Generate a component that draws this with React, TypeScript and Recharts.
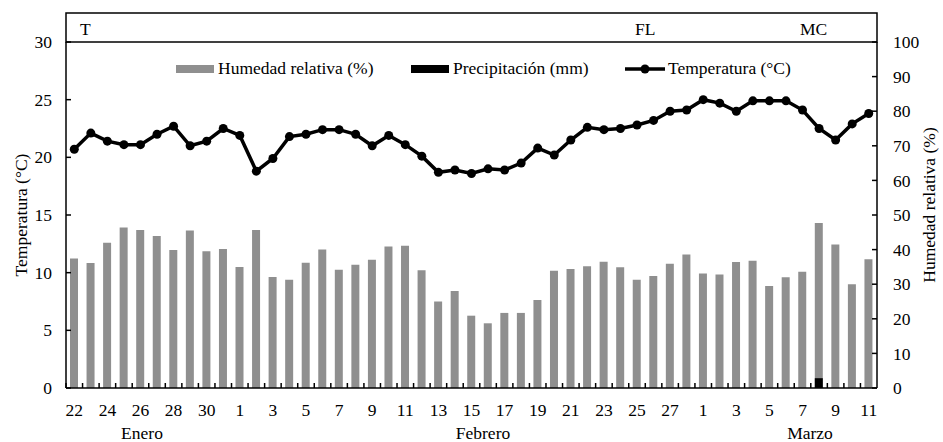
import React from 'react';
import { ComposedChart, Bar, Line, XAxis, YAxis, Legend } from 'recharts';

// Jan 22 - Mar 11
const dayLabels = [
  '22', '23', '24', '25', '26', '27', '28', '29', '30', '31',
  '1', '2', '3', '4', '5', '6', '7', '8', '9', '10', '11', '12', '13', '14',
  '15', '16', '17', '18', '19', '20', '21', '22', '23', '24', '25', '26', '27', '28',
  '1', '2', '3', '4', '5', '6', '7', '8', '9', '10', '11',
];

const humidity = [
  37.4, 36.1, 42.0, 46.4, 45.7, 43.9, 39.9, 45.5, 39.5, 40.2,
  35.0, 45.7, 32.1, 31.3, 36.2, 40.0, 34.2, 35.6, 37.1, 40.9, 41.1, 34.0, 25.0, 28.0,
  20.9, 18.7, 21.7, 21.7, 25.4, 33.9, 34.4, 35.2, 36.5, 34.9, 31.3, 32.4, 35.9, 38.6,
  33.1, 32.8, 36.4, 36.8, 29.5, 32.0, 33.6, 47.7, 41.5, 30.0, 37.2,
];

const precipitation = [
  0, 0, 0, 0, 0, 0, 0, 0, 0, 0,
  0, 0, 0, 0, 0, 0, 0, 0, 0, 0, 0, 0, 0, 0,
  0, 0, 0, 0, 0, 0, 0, 0, 0, 0, 0, 0, 0, 0,
  0, 0, 0, 0, 0, 0, 0, 0.85, 0, 0, 0,
];

const temperature = [
  20.7, 22.1, 21.4, 21.1, 21.1, 22.0, 22.7, 21.0, 21.4, 22.5,
  21.9, 18.8, 19.9, 21.8, 22.0, 22.4, 22.4, 22.0, 21.0, 21.9, 21.1, 20.1, 18.7, 18.9,
  18.6, 19.0, 18.9, 19.5, 20.8, 20.2, 21.5, 22.6, 22.4, 22.5, 22.8, 23.2, 24.0, 24.1,
  25.0, 24.7, 24.0, 24.9, 24.9, 24.9, 24.1, 22.5, 21.5, 22.9, 23.8,
];

const tempTicks = [0, 5, 10, 15, 20, 25, 30];
const humTicks = [0, 10, 20, 30, 40, 50, 60, 70, 80, 90, 100];
const months = ['Enero', 'Febrero', 'Marzo'];
const stages = ['T', 'FL', 'MC'];

const W = 943;
const H = 442;
const PL = 66;
const PR = 877;
const PT = 42;
const PB = 388;
const BAND = (PR - PL) / dayLabels.length;
const FONT = '"Liberation Serif", "Times New Roman", serif';
const FS = 17.5;

const monthX = [142, 483, 810];
const stageX = [80, 635, 800];

const data = dayLabels.map((d, i) => ({
  key: i,
  day: d,
  hum: humidity[i],
  prec: precipitation[i],
  temp: temperature[i],
}));

const XTick = (props: any) => {
  const { x, y, payload } = props;
  const i = payload.value;
  const edge = x - BAND / 2;
  return (
    <g>
      <line x1={edge} x2={edge} y1={y} y2={y - 5} stroke="#000" strokeWidth={1.5} />
      {i % 2 === 0 && (
        <text x={x} y={y + 28} textAnchor="middle" fontSize={FS} fontFamily={FONT} fill="#000">
          {dayLabels[i]}
        </text>
      )}
    </g>
  );
};

const LeftTick = (props: any) => {
  const { x, y, payload } = props;
  return (
    <g>
      <line x1={x} x2={x + 5} y1={y} y2={y} stroke="#000" strokeWidth={1.5} />
      <text x={x - 14} y={y} dy="0.35em" textAnchor="end" fontSize={FS} fontFamily={FONT} fill="#000">
        {payload.value}
      </text>
    </g>
  );
};

const RightTick = (props: any) => {
  const { x, y, payload } = props;
  return (
    <g>
      <line x1={x - 5} x2={x} y1={y} y2={y} stroke="#000" strokeWidth={1.5} />
      <text x={x + 16} y={y} dy="0.35em" textAnchor="start" fontSize={FS} fontFamily={FONT} fill="#000">
        {payload.value}
      </text>
    </g>
  );
};

const itemStyle: React.CSSProperties = {
  position: 'absolute',
  top: 0,
  display: 'flex',
  alignItems: 'center',
  whiteSpace: 'nowrap',
  fontFamily: FONT,
  fontSize: FS,
  color: '#000',
};

const LegendBox = () => (
  <div style={{ position: 'relative', height: 24 }}>
    <div style={{ ...itemStyle, left: 176 }}>
      <span style={{ width: 38, height: 8, background: '#8f8f8f', marginRight: 4 }} />
      Humedad relativa (%)
    </div>
    <div style={{ ...itemStyle, left: 411 }}>
      <span style={{ width: 38, height: 8, background: '#000', marginRight: 4 }} />
      Precipitación (mm)
    </div>
    <div style={{ ...itemStyle, left: 625 }}>
      <svg width={40} height={12} style={{ marginRight: 3 }}>
        <line x1={0} x2={40} y1={6} y2={6} stroke="#000" strokeWidth={3.5} />
        <circle cx={20} cy={6} r={4.5} fill="#000" />
      </svg>
      Temperatura (°C)
    </div>
  </div>
);

export default function App() {
  return (
    <div style={{ position: 'absolute', left: 0, top: 0, width: W, height: H, fontFamily: FONT }}>
      <ComposedChart
        width={W}
        height={H}
        data={data}
        margin={{ top: PT, right: 0, bottom: H - PB - 30, left: 0 }}
        barGap={-8}
        style={{ fontFamily: FONT }}
      >
        <XAxis
          dataKey="key"
          height={30}
          interval={0}
          tickSize={0}
          tickMargin={0}
          tick={<XTick />}
          tickLine={false}
          axisLine={{ stroke: '#000', strokeWidth: 1.5 }}
        />
        <YAxis
          yAxisId="left"
          orientation="left"
          width={PL}
          domain={[0, 30]}
          ticks={tempTicks}
          tickSize={0}
          tickMargin={0}
          tick={<LeftTick />}
          tickLine={false}
          axisLine={{ stroke: '#000', strokeWidth: 1.5 }}
        />
        <YAxis
          yAxisId="right"
          orientation="right"
          width={W - PR}
          domain={[0, 100]}
          ticks={humTicks}
          tickSize={0}
          tickMargin={0}
          tick={<RightTick />}
          tickLine={false}
          axisLine={{ stroke: '#000', strokeWidth: 1.5 }}
        />
        <Legend
          verticalAlign="middle"
          layout="horizontal"
          content={<LegendBox />}
          wrapperStyle={{ top: 58, left: 0, width: W, height: 24 }}
        />
        <Bar yAxisId="right" dataKey="hum" name="Humedad relativa (%)" fill="#8f8f8f" barSize={8} isAnimationActive={false} />
        <Bar yAxisId="left" dataKey="prec" name="Precipitación (mm)" fill="#000" barSize={8} isAnimationActive={false} />
        <Line
          yAxisId="left"
          dataKey="temp"
          name="Temperatura (°C)"
          stroke="#000"
          strokeWidth={3.5}
          dot={{ r: 4.5, fill: '#000', stroke: '#000', strokeWidth: 0 }}
          isAnimationActive={false}
        />
        <rect x={PL} y={13} width={PR - PL} height={PT - 13} fill="none" stroke="#000" strokeWidth={1.5} />
        {stages.map((s, i) => (
          <text key={s} x={stageX[i]} y={35} fontSize={FS} fontFamily={FONT} fill="#000">
            {s}
          </text>
        ))}
        {months.map((m, i) => (
          <text key={m} x={monthX[i]} y={439} textAnchor="middle" fontSize={FS} fontFamily={FONT} fill="#000">
            {m}
          </text>
        ))}
        <text
          transform="translate(21, 215) rotate(-90)"
          dy="0.35em"
          textAnchor="middle"
          fontSize={FS}
          fontFamily={FONT}
          fill="#000"
        >
          Temperatura (°C)
        </text>
        <text
          transform="translate(929, 205) rotate(-90)"
          dy="0.35em"
          textAnchor="middle"
          fontSize={FS}
          fontFamily={FONT}
          fill="#000"
        >
          Humedad relativa (%)
        </text>
      </ComposedChart>
    </div>
  );
}
